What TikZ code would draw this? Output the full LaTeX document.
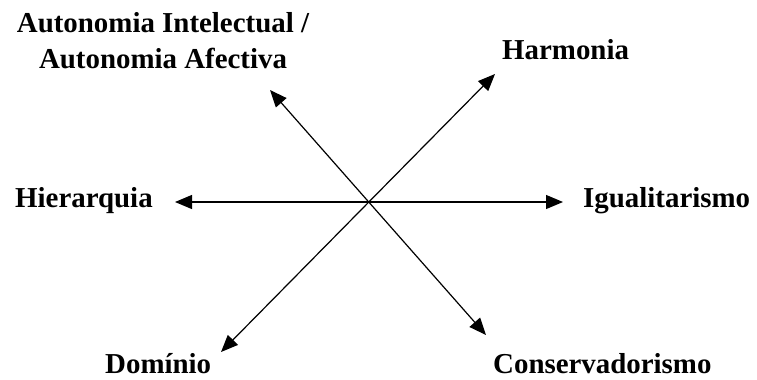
\documentclass[tikz,border=0pt]{standalone}
\usepackage{fontspec}
\setmainfont{Liberation Serif}
\usetikzlibrary{arrows.meta}
\begin{document}
\begin{tikzpicture}[x=1bp, y=-1bp, every node/.style={inner sep=0pt, font=\fontsize{29}{36}\selectfont\bfseries}, axis/.style={{Triangle[length=17bp,width=14bp]}-{Triangle[length=17bp,width=14bp]}, line width=1.2bp}]

		\useasboundingbox (0,0) rectangle (757,379);
		\node[anchor=base] (aut1) at (163, 32) {Autonomia Intelectual /};
		\node[anchor=base] (aut2) at (163, 68) {Autonomia Afectiva};
		\node[anchor=base west] (harm) at (502, 59) {Harmonia};
		\node[anchor=base west] (hier) at (15, 207) {Hierarquia};
		\node[anchor=base west] (igual) at (583, 207) {Igualitarismo};
		\node[anchor=base west] (dom) at (105, 373) {Domínio};
		\node[anchor=base west] (cons) at (493, 373) {Conservadorismo};
		\coordinate (hl) at (175, 202);
		\coordinate (hr) at (563, 202);
		\coordinate (ul) at (270, 90);
		\coordinate (lr) at (486, 335);
		\coordinate (ur) at (495, 74);
		\coordinate (ll) at (221, 352);
		\draw[axis] (hl) -- (hr);
		\draw[axis] (ul) -- (lr);
		\draw[axis] (ll) -- (ur);
	\end{tikzpicture}
\end{document}
